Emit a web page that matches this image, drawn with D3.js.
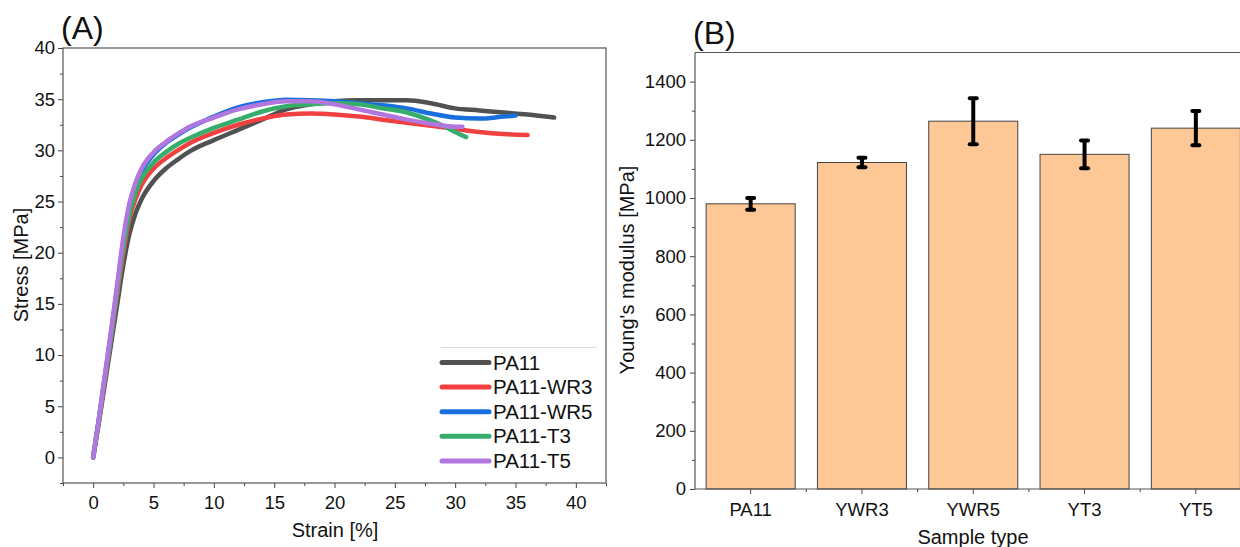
<!DOCTYPE html>
<html>
<head>
<meta charset="utf-8">
<script src="https://cdn.jsdelivr.net/npm/d3@7"></script>
<style>
  body { margin: 0; background: #fff; }
  svg { display: block; font-family: "Liberation Sans", Arial, sans-serif; }
</style>
</head>
<body>
<div id="chart"></div>
<script>
/**
 * Data
 */
var seriesNames = ["PA11", "PA11-WR3", "PA11-WR5", "PA11-T3", "PA11-T5"];
var seriesColors = ["#515151", "#f14040", "#1a6fdf", "#37ad6b", "#b177de"];

var pa11Strain = [0, 0.5, 1, 1.5, 2, 2.5, 3, 3.5, 4, 5, 6, 7, 8, 10, 12, 14, 16, 18, 20, 22, 24, 26, 28, 30, 32, 34, 36, 38.2];
var pa11Stress = [0, 3.6, 7.4, 11.2, 15, 18.8, 21.8, 23.8, 25.2, 27, 28.2, 29.1, 29.9, 31, 32, 33, 34, 34.5, 34.8, 34.9, 34.9, 34.9, 34.6, 34.1, 33.9, 33.7, 33.5, 33.2];

var wr3Strain = [0, 0.5, 1, 1.5, 2, 2.5, 3, 3.5, 4, 5, 6, 7, 8, 10, 12, 14, 16, 18, 20, 22, 24, 26, 28, 30, 32, 34, 36];
var wr3Stress = [0, 3.8, 7.8, 11.8, 16, 20, 23.3, 25.2, 26.6, 28.2, 29.2, 30, 30.7, 31.7, 32.5, 33.1, 33.5, 33.6, 33.5, 33.3, 33, 32.7, 32.4, 32.1, 31.8, 31.6, 31.5];

var wr5Strain = [0, 0.5, 1, 1.5, 2, 2.5, 3, 3.5, 4, 5, 6, 7, 8, 10, 12, 14, 16, 18, 20, 22, 24, 26, 28, 30, 32, 34, 35];
var wr5Stress = [0, 4, 8.2, 12.3, 16.7, 21, 24.3, 26.4, 27.9, 29.6, 30.7, 31.5, 32.2, 33.3, 34.2, 34.7, 34.95, 34.9, 34.8, 34.6, 34.4, 34.1, 33.6, 33.2, 33.1, 33.3, 33.4];

var t3Strain = [0, 0.5, 1, 1.5, 2, 2.5, 3, 3.5, 4, 5, 6, 7, 8, 10, 12, 14, 16, 18, 20, 22, 24, 26, 28, 29, 30, 30.9];
var t3Stress = [0, 3.9, 8, 12, 16.3, 20.5, 23.7, 25.8, 27.2, 28.8, 29.8, 30.6, 31.2, 32.2, 33, 33.8, 34.3, 34.5, 34.6, 34.5, 34.1, 33.7, 32.9, 32.4, 31.8, 31.3];

var t5Strain = [0, 0.5, 1, 1.5, 2, 2.5, 3, 3.5, 4, 5, 6, 7, 8, 10, 12, 14, 16, 18, 20, 22, 24, 26, 28, 30, 30.6];
var t5Stress = [0, 4, 8.3, 12.5, 17, 21.5, 24.8, 26.8, 28.2, 29.8, 30.8, 31.6, 32.3, 33.2, 34, 34.5, 34.8, 34.8, 34.5, 34, 33.5, 33, 32.6, 32.3, 32.3];

var strainTicks = [0, 5, 10, 15, 20, 25, 30, 35, 40];
var stressTicks = [0, 5, 10, 15, 20, 25, 30, 35, 40];

var sampleTypes = ["PA11", "YWR3", "YWR5", "YT3", "YT5"];
var modulusMean = [980, 1122, 1264, 1150, 1240];
var modulusErr = [20, 16, 79, 48, 59];
var modulusTicks = [0, 200, 400, 600, 800, 1000, 1200, 1400];

var W = 1240, H = 547;
var tickFont = "18.5px", titleFont = "20px";

/**
 * Zips two arrays into point objects for d3.line
 */
function toPoints(xs, ys) {
  return xs.map(function(x, i) { return { x: x, y: ys[i] }; });
}

/**
 * Draws a major + minor tick axis. minor ticks have no labels.
 */
function drawAxis(g, axisFn, scale, major, minor, fmt) {
  var a = g.append("g").call(axisFn(scale).tickValues(major).tickSize(5).tickPadding(3).tickSizeOuter(0).tickFormat(fmt));
  a.select(".domain").remove();
  a.selectAll("text").style("font-size", tickFont).attr("fill", "#111");
  a.selectAll("line").attr("stroke", "#444");
  var m = g.append("g").call(axisFn(scale).tickValues(minor).tickSize(3).tickFormat(""));
  m.select(".domain").remove();
  m.selectAll("line").attr("stroke", "#444");
  return a;
}

var svg = d3.select("#chart").append("svg")
  .attr("width", W).attr("height", H);
svg.append("rect").attr("width", W).attr("height", H).attr("fill", "#fff");

/* ---------------- Panel (A) stress-strain ---------------- */
var A = { left: 63, right: 606, top: 48, bottom: 483 };
var xA = d3.scaleLinear().domain([-2.5, 42.5]).range([A.left, A.right]);
var yA = d3.scaleLinear().domain([-2.5, 40]).range([A.bottom, A.top]);

var gA = svg.append("g");
var xAxA = gA.append("g").attr("transform", "translate(0," + A.bottom + ")");
var xa = drawAxis(xAxA, d3.axisBottom, xA, strainTicks, d3.range(-2.5, 43, 2.5).filter(function(v) { return v % 5 != 0; }), d3.format("d"));
xa.selectAll("text").attr("dy", "0.95em");
var yAxA = gA.append("g").attr("transform", "translate(" + A.left + ",0)");
drawAxis(yAxA, d3.axisLeft, yA, stressTicks, d3.range(-2.5, 40, 2.5).filter(function(v) { return v % 5 != 0; }), d3.format("d"));

gA.append("rect")
  .attr("x", A.left).attr("y", A.top)
  .attr("width", A.right - A.left).attr("height", A.bottom - A.top)
  .attr("fill", "none").attr("stroke", "#555").attr("stroke-width", 1.2);

var curves = [
  toPoints(pa11Strain, pa11Stress),
  toPoints(wr3Strain, wr3Stress),
  toPoints(wr5Strain, wr5Stress),
  toPoints(t3Strain, t3Stress),
  toPoints(t5Strain, t5Stress)
];

var line = d3.line()
  .curve(d3.curveMonotoneX)
  .x(function(d) { return xA(d.x); })
  .y(function(d) { return yA(d.y); });

gA.selectAll(".curve").data(curves).enter().append("path")
  .attr("class", "curve")
  .attr("d", line)
  .attr("fill", "none")
  .attr("stroke", function(d, i) { return seriesColors[i]; })
  .attr("stroke-width", 4.5)
  .attr("stroke-linecap", "round")
  .attr("stroke-linejoin", "round");

// legend
var leg = gA.append("g");
leg.append("line").attr("x1", 441).attr("x2", 597).attr("y1", 347.5).attr("y2", 347.5)
  .attr("stroke", "#ddd").attr("stroke-width", 1);
seriesNames.forEach(function(name, i) {
  var cy = 362.5 + i * 24.6;
  leg.append("line").attr("x1", 442).attr("x2", 489).attr("y1", cy).attr("y2", cy)
    .attr("stroke", seriesColors[i]).attr("stroke-width", 5).attr("stroke-linecap", "round");
  leg.append("text").attr("x", 493).attr("y", cy + 7)
    .style("font-size", "20.5px").attr("fill", "#111").text(name);
});

gA.append("text").attr("x", 335).attr("y", 537).attr("text-anchor", "middle")
  .style("font-size", titleFont).attr("fill", "#111").text("Strain [%]");
gA.append("text").attr("transform", "translate(28,265) rotate(-90)").attr("text-anchor", "middle")
  .style("font-size", titleFont).attr("fill", "#111").text("Stress [MPa]");
gA.append("text").attr("x", 61).attr("y", 39)
  .style("font-size", "32px").attr("fill", "#111").text("(A)");

/* ---------------- Panel (B) Young's modulus ---------------- */
var B = { left: 695, right: 1251.5, top: 52.5, bottom: 489 };
var xB = d3.scaleBand().domain(sampleTypes).range([B.left, B.right]).paddingInner(0.2).paddingOuter(0.1);
var yB = d3.scaleLinear().domain([0, 1500]).range([B.bottom, B.top]);

var gB = svg.append("g");

gB.selectAll(".bar").data(sampleTypes).enter().append("rect")
  .attr("class", "bar")
  .attr("x", function(d) { return xB(d); })
  .attr("y", function(d, i) { return yB(modulusMean[i]); })
  .attr("width", xB.bandwidth())
  .attr("height", function(d, i) { return yB(0) - yB(modulusMean[i]); })
  .attr("fill", "#fec896")
  .attr("stroke", "#444")
  .attr("stroke-width", 1);

// error bars
var eb = gB.selectAll(".err").data(sampleTypes).enter().append("g").attr("class", "err");
eb.append("line")
  .attr("x1", function(d) { return xB(d) + xB.bandwidth() / 2; })
  .attr("x2", function(d) { return xB(d) + xB.bandwidth() / 2; })
  .attr("y1", function(d, i) { return yB(modulusMean[i] + modulusErr[i]); })
  .attr("y2", function(d, i) { return yB(modulusMean[i] - modulusErr[i]); })
  .attr("stroke", "#000").attr("stroke-width", 4);
[1, -1].forEach(function(s) {
  eb.append("line")
    .attr("x1", function(d) { return xB(d) + xB.bandwidth() / 2 - 3.5; })
    .attr("x2", function(d) { return xB(d) + xB.bandwidth() / 2 + 3.5; })
    .attr("y1", function(d, i) { return yB(modulusMean[i] + s * modulusErr[i]); })
    .attr("y2", function(d, i) { return yB(modulusMean[i] + s * modulusErr[i]); })
    .attr("stroke", "#000").attr("stroke-width", 4).attr("stroke-linecap", "round");
});

// axes
var xAxB = gB.append("g").attr("transform", "translate(0," + B.bottom + ")");
var xb = xAxB.append("g").call(d3.axisBottom(xB).tickSize(5).tickPadding(3).tickSizeOuter(0));
xb.select(".domain").remove();
xb.selectAll("text").style("font-size", tickFont).attr("fill", "#111").attr("dy", "1.05em");
xb.selectAll("line").attr("stroke", "#444");
xAxB.selectAll(".minor").data(d3.range(1, 6)).enter().append("line")
  .attr("class", "minor")
  .attr("x1", function(k) { return B.left + k * xB.step(); })
  .attr("x2", function(k) { return B.left + k * xB.step(); })
  .attr("y1", 0).attr("y2", 3).attr("stroke", "#444");

var yAxB = gB.append("g").attr("transform", "translate(" + B.left + ",0)");
var yb = drawAxis(yAxB, d3.axisLeft, yB, modulusTicks, d3.range(100, 1500, 200), d3.format("d"));
yb.call(function(a) { a.selectAll(".tick text").attr("x", -9); });

gB.append("line").attr("x1", B.left).attr("x2", B.right).attr("y1", B.bottom).attr("y2", B.bottom)
  .attr("stroke", "#555").attr("stroke-width", 1.2);
gB.append("line").attr("x1", B.left).attr("x2", B.right).attr("y1", B.top).attr("y2", B.top)
  .attr("stroke", "#555").attr("stroke-width", 1.2);
gB.append("line").attr("x1", B.left).attr("x2", B.left).attr("y1", B.top).attr("y2", B.bottom)
  .attr("stroke", "#555").attr("stroke-width", 1.2);

gB.append("text").attr("x", 973).attr("y", 544).attr("text-anchor", "middle")
  .style("font-size", titleFont).attr("fill", "#111").text("Sample type");
gB.append("text").attr("transform", "translate(634,270) rotate(-90)").attr("text-anchor", "middle")
  .style("font-size", titleFont).attr("fill", "#111").text("Young's modulus [MPa]");
gB.append("text").attr("x", 693).attr("y", 44)
  .style("font-size", "32px").attr("fill", "#111").text("(B)");
</script>
</body>
</html>
